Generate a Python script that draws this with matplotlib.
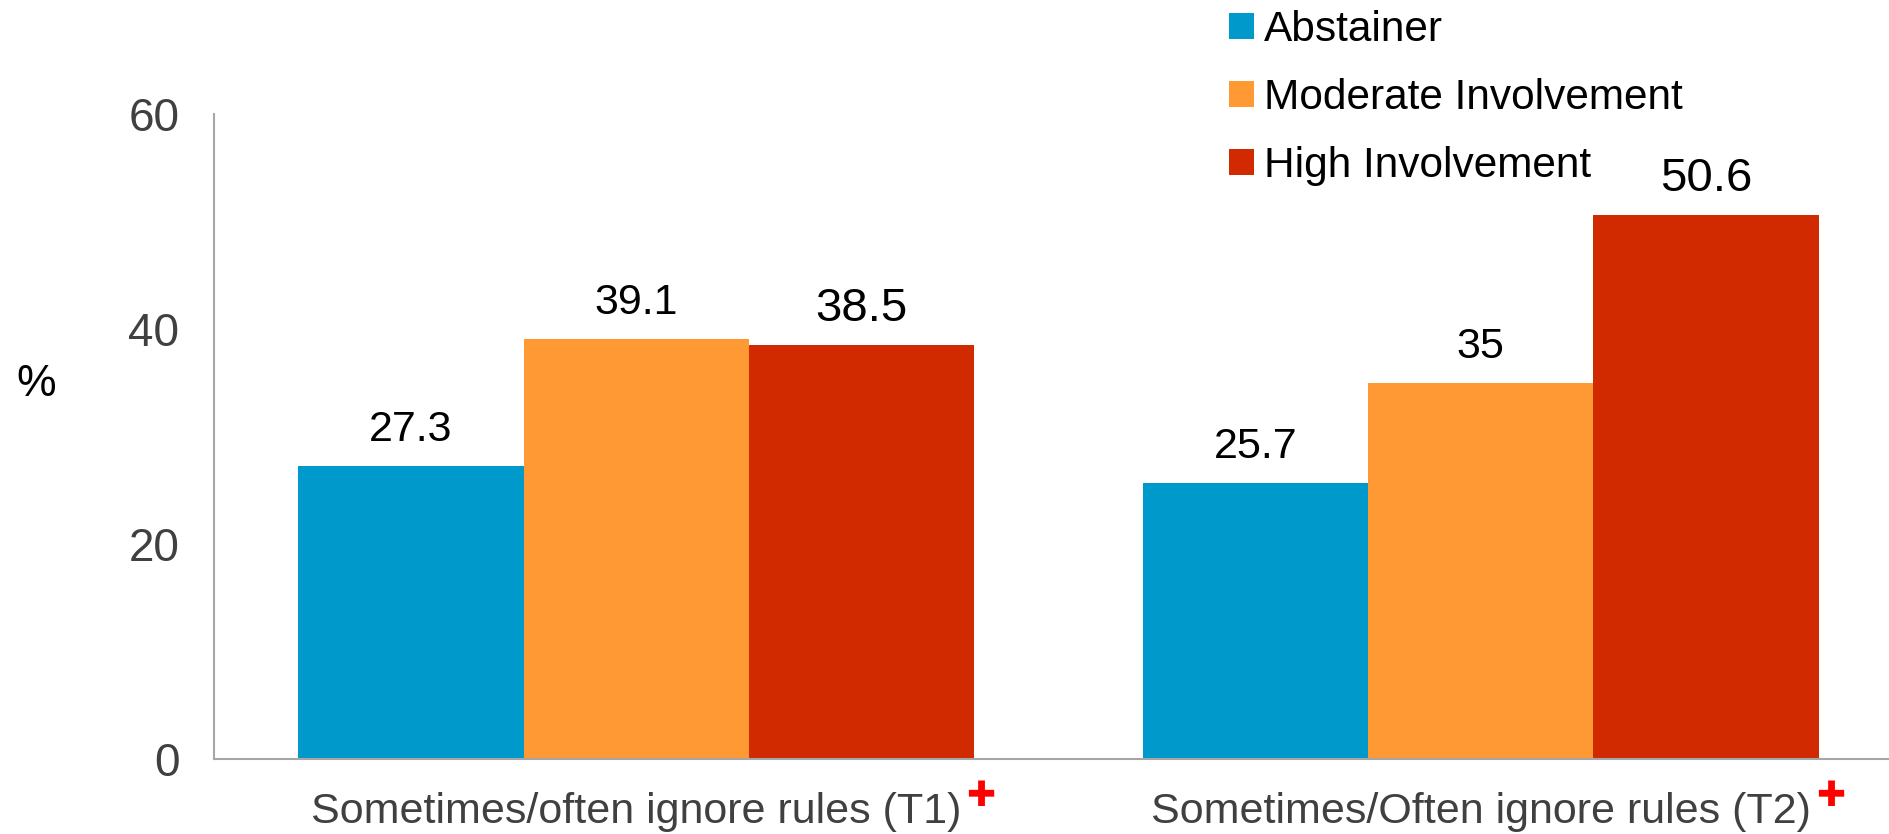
import matplotlib
matplotlib.use("Agg")
import matplotlib.pyplot as plt
import numpy as np

categories = ["Sometimes/often ignore rules (T1)", "Sometimes/Often ignore rules (T2)"]
series_names = ["Abstainer", "Moderate Involvement", "High Involvement"]
abstainer = [27.3, 25.7]
moderate = [39.1, 35.0]
high = [38.5, 50.6]
value_labels = [["27.3", "25.7"], ["39.1", "35"], ["38.5", "50.6"]]
yticks = [0, 20, 40, 60]

colors = ["#0099CC", "#FF9933", "#D12A00"]
label_sizes = [31, 31, 34]

plt.rcParams['font.family'] = ['Liberation Sans', 'DejaVu Sans']

W, H = 1889, 834
fig = plt.figure(figsize=(W / 100, H / 100), dpi=100)
left_px, right_px, top_px, bot_px = 214, 1903, 114, 759
ax = fig.add_axes([left_px / W, 1 - bot_px / H, (right_px - left_px) / W, (bot_px - top_px) / H])

x = np.arange(len(categories))
bw = 0.8 / 3
data = [abstainer, moderate, high]
bars = []
for i, (vals, c) in enumerate(zip(data, colors)):
    b = ax.bar(x + (i - 1) * bw, vals, width=bw, color=c, label=series_names[i], linewidth=0)
    bars.append(b)
    for j, rect in enumerate(b):
        ax.annotate(value_labels[i][j], (rect.get_x() + rect.get_width() / 2, rect.get_height()),
                    xytext=(0, 36), textcoords='offset pixels', ha='center', va='center',
                    fontsize=label_sizes[i], color='black')

ax.set_xlim(-0.5, 1.5)
ax.set_ylim(0, 60)
ax.set_yticks(yticks)
ax.set_yticklabels([str(t) for t in yticks])
ax.set_xticks(x)
ax.set_xticklabels(categories)
ax.tick_params(axis='y', length=0, labelsize=33, colors='#404040', pad=25)
ax.tick_params(axis='x', length=0, labelsize=31, colors='#404040', pad=24)
for s in ['top', 'right']:
    ax.spines[s].set_visible(False)
for s in ['left', 'bottom']:
    ax.spines[s].set_color('#A6A6A6')
    ax.spines[s].set_linewidth(1.5)

fig.text(36 / W, 1 - 385 / H, "%", fontsize=32, ha='center', va='center', color='black')

leg = fig.legend(handles=bars, labels=series_names, loc='upper left',
                 bbox_to_anchor=(1229 / W, 1 - 10 / H), frameon=False, fontsize=30.5,
                 handlelength=0.58, handleheight=0.58, handletextpad=0.25,
                 labelspacing=0.66, borderpad=0, borderaxespad=0)

fig.canvas.draw()
renderer = fig.canvas.get_renderer()
for lbl in ax.get_xticklabels():
    bb = lbl.get_window_extent(renderer)
    fig.text((bb.x1 + 5) / W, (bb.y1 + 13) / H, "\u271a", color='#FF0000', fontsize=25,
             ha='left', va='top', family=['DejaVu Sans'])

fig.savefig("out.png", dpi=100)
